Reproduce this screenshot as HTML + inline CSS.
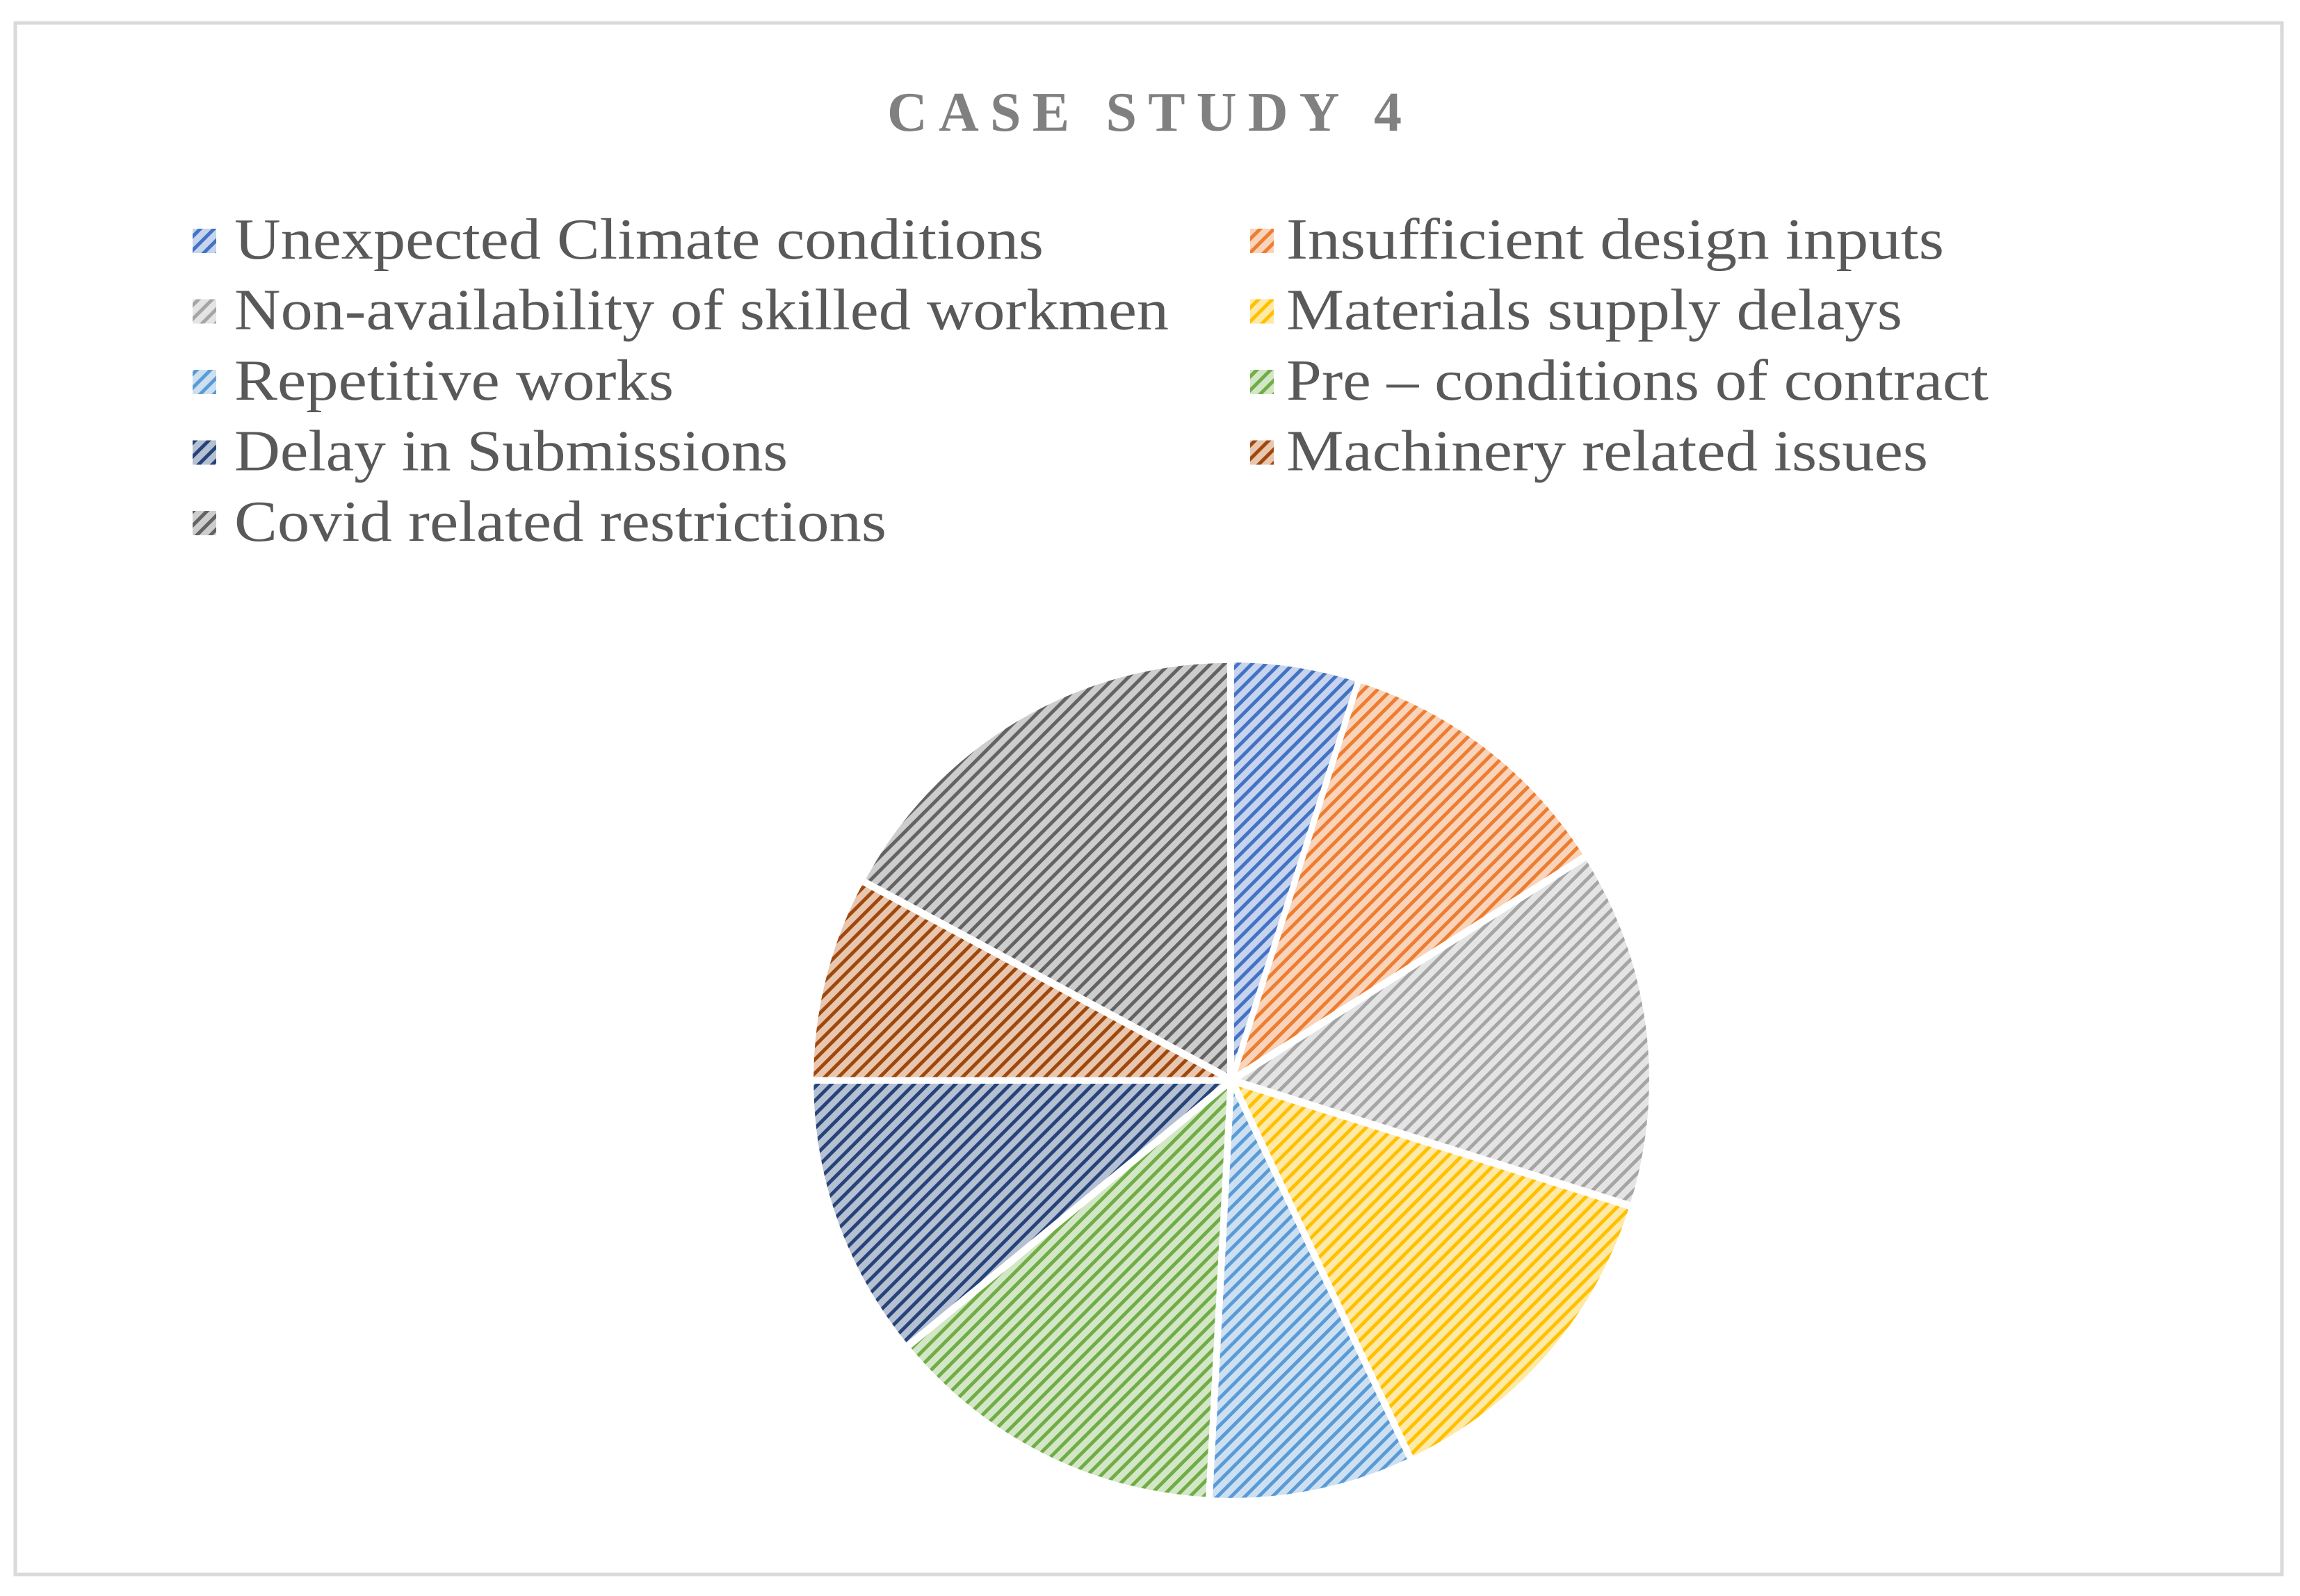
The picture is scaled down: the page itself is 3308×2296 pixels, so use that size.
<!DOCTYPE html>
<html><head><meta charset="utf-8"><style>html,body{margin:0;padding:0;background:#fff}svg{display:block}</style></head>
<body>
<svg id="s" width="3308" height="2296" viewBox="0 0 3308 2296" xmlns="http://www.w3.org/2000/svg">
<defs id="d"></defs>
<rect x="0" y="0" width="3308" height="2296" fill="#fff"/>
<rect x="22" y="33" width="3260" height="2232" fill="#fff" stroke="#d9d9d9" stroke-width="5"/>
<text x="1646" y="188" text-anchor="middle" font-family="Liberation Serif, serif" font-weight="bold" font-size="80" fill="#808080" textLength="740" lengthAdjust="spacing">CASE STUDY 4</text>
<g id="leg" font-family="Liberation Serif, serif" font-size="84" fill="#595959"></g>
<g id="pie"></g>
</svg>
<script>
var cols=[["#4472C4","#c7d4ee"],["#ED7D31","#f9d3ba"],["#A5A5A5","#e4e4e4"],["#FFC000","#ffe9a6"],["#5B9BD5","#cde0f2"],["#70AD47","#d3e6c6"],["#264478","#b6c0d3"],["#9E480E","#e9c6ae"],["#636363","#cdcdcd"]];
var names=["Unexpected Climate conditions","Insufficient design inputs","Non-availability of skilled workmen","Materials supply delays","Repetitive works","Pre \u2013 conditions of contract","Delay in Submissions","Machinery related issues","Covid related restrictions"];
var widths=[1164,946,1344,886,632,1010,796,923,938];
var NS="http://www.w3.org/2000/svg",d=document.getElementById("d"),leg=document.getElementById("leg"),pie=document.getElementById("pie");
cols.forEach(function(c,i){
 var p=document.createElementNS(NS,"pattern");
 p.setAttribute("id","p"+i);p.setAttribute("width","14");p.setAttribute("height","14");
 p.setAttribute("patternUnits","userSpaceOnUse");p.setAttribute("patternTransform","rotate(-45)");
 p.innerHTML='<rect width="14" height="14" fill="'+c[1]+'"/><rect width="14" height="5" fill="'+c[0]+'"/>';
 d.appendChild(p);
 var col=i%2,row=Math.floor(i/2);
 var sx=col?1798:277, tx=col?1850:337, by=372+row*101.5;
 var r=document.createElementNS(NS,"rect");
 r.setAttribute("x",sx);r.setAttribute("y",by-43);r.setAttribute("width",34);r.setAttribute("height",35);r.setAttribute("fill","url(#p"+i+")");
 leg.appendChild(r);
 var t=document.createElementNS(NS,"text");
 t.setAttribute("x",tx);t.setAttribute("y",by);t.setAttribute("textLength",widths[i]);t.setAttribute("lengthAdjust","spacingAndGlyphs");
 t.textContent=names[i];leg.appendChild(t);
});
var ang=[0,17.6,57.7,107.5,154.7,183,230.6,270,298.3,360];
var cx=1771,cy=1554,R=598;
for(var i=0;i<9;i++){
 var a0=ang[i]*Math.PI/180,a1=ang[i+1]*Math.PI/180,am=(a0+a1)/2;
 var ox=cx+6*Math.sin(am),oy=cy-6*Math.cos(am);
 var x0=ox+R*Math.sin(a0),y0=oy-R*Math.cos(a0),x1=ox+R*Math.sin(a1),y1=oy-R*Math.cos(a1);
 var large=(a1-a0)>Math.PI?1:0;
 var pa=document.createElementNS(NS,"path");
 pa.setAttribute("d","M"+ox+","+oy+" L"+x0+","+y0+" A"+R+","+R+" 0 "+large+" 1 "+x1+","+y1+" Z");
 pa.setAttribute("fill","url(#p"+i+")");pa.setAttribute("stroke","#fff");pa.setAttribute("stroke-width","6");
 pie.appendChild(pa);
}
</script>
</body></html>
